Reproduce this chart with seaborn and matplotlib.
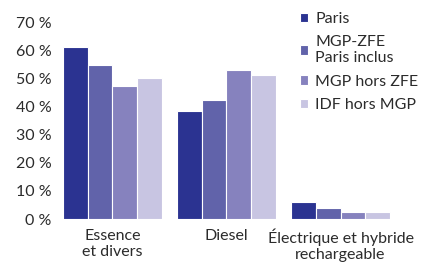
import matplotlib
matplotlib.use("Agg")
import matplotlib.pyplot as plt
import seaborn as sns
import pandas as pd

# donnees (part du parc, en %)
categories = ["Essence\net divers", "Diesel", "Électrique et hybride\nrechargeable"]
zones = ["Paris", "MGP-ZFE\nParis inclus", "MGP hors ZFE", "IDF hors MGP"]
paris = [61.1, 38.4, 6.0]
mgp_zfe = [54.8, 42.3, 3.9]
mgp_hors_zfe = [47.3, 53.0, 2.5]
idf_hors_mgp = [50.2, 51.2, 2.5]
couleurs = ["#2b3391", "#6163aa", "#8682be", "#c8c5e2"]
yticks = [0, 10, 20, 30, 40, 50, 60, 70]

rows = []
for zone, vals in zip(zones, [paris, mgp_zfe, mgp_hors_zfe, idf_hors_mgp]):
    for cat, v in zip(categories, vals):
        rows.append({"categorie": cat, "zone": zone, "part": v})
df = pd.DataFrame(rows)

sns.set_style("white")
plt.rcParams["font.family"] = ["Lato", "DejaVu Sans"]
texte = "#2b2b2b"
fs = 11.5

fig = plt.figure(figsize=(4.21, 2.62), dpi=100)
ax = fig.add_axes([0.1318, 0.164, 0.8124, 0.752])

sns.barplot(data=df, x="categorie", y="part", hue="zone", order=categories,
            hue_order=zones, palette=couleurs, width=0.87, saturation=1,
            edgecolor="white", linewidth=0.8, ax=ax)

ax.set_ylim(0, 70)
ax.set_xlim(-0.5, 2.5)
ax.set_yticks(yticks)
ax.set_yticklabels([f"{t} %" for t in yticks])
ax.set_xlabel("")
ax.set_ylabel("")
sns.despine(ax=ax, left=True, bottom=True)
ax.tick_params(axis="both", length=0, labelsize=fs, colors=texte)
ax.tick_params(axis="y", pad=3)
ax.tick_params(axis="x", pad=7)
for lab in ax.get_xticklabels():
    lab.set_linespacing(1.2)

ax.get_legend().remove()
handles, labels = ax.get_legend_handles_labels()
leg = fig.legend(handles, labels, loc="upper left", bbox_to_anchor=(0.693, 0.985),
                 frameon=False, fontsize=fs, handlelength=0.52, handleheight=0.52,
                 handletextpad=0.45, labelspacing=0.58, borderaxespad=0.1)
for t in leg.get_texts():
    t.set_color(texte)
    t.set_linespacing(1.2)

fig.savefig("out.png", dpi=100)
